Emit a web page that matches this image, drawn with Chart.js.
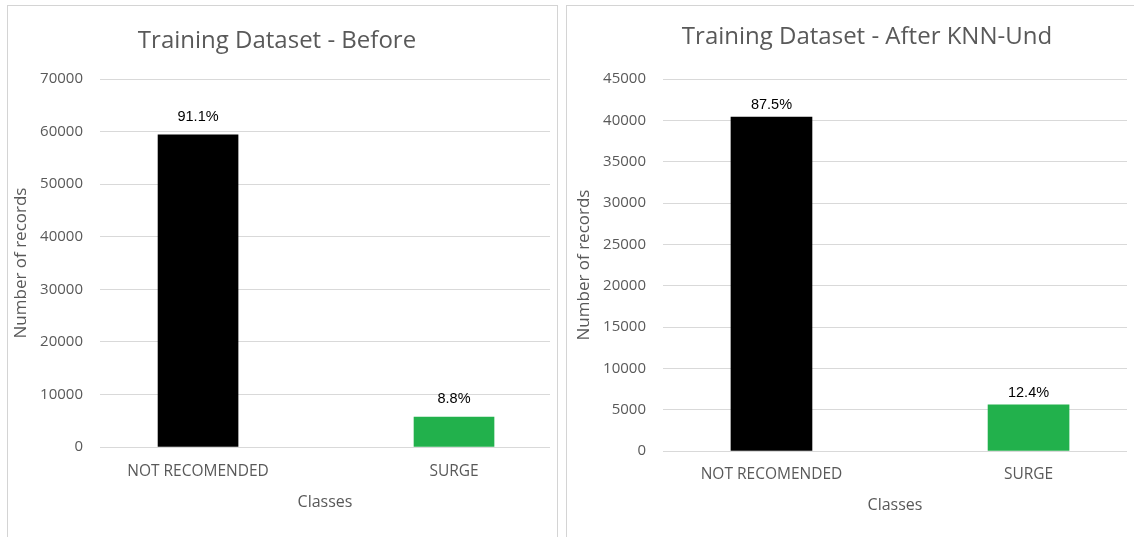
<!DOCTYPE html>
<html>
<head>
<meta charset="utf-8">
<script src="https://cdn.jsdelivr.net/npm/chart.js@4.4.1/dist/chart.umd.min.js"></script>
<style>
  html, body { margin: 0; padding: 0; background: #ffffff; width: 1134px; height: 537px; overflow: hidden; }
  .panel { position: absolute; box-sizing: border-box; border: 1px solid #d4d4d4; border-bottom: none; height: 600px; }
  canvas { position: absolute; top: 0; }
</style>
</head>
<body>
<div class="panel" style="left:7px; top:5px; width:551px;"></div>
<div class="panel" style="left:566px; top:5px; width:600px;"></div>
<canvas id="before" width="558" height="537" style="left:0px;"></canvas>
<canvas id="after" width="576" height="537" style="left:558px;"></canvas>
<script>
// ---- data ----
const categories = ['NOT RECOMENDED', 'SURGE'];
const beforeValues = [59400, 5700];
const beforePercents = ['91.1%', '8.8%'];
const afterValues = [40400, 5600];
const afterPercents = ['87.5%', '12.4%'];
const barColors = ['#000000', '#22b14c'];
const beforeTicks = [0, 10000, 20000, 30000, 40000, 50000, 60000, 70000];
const afterTicks = [0, 5000, 10000, 15000, 20000, 25000, 30000, 35000, 40000, 45000];

const GREY = '#595959';

const panelTitle = {
  id: 'panelTitle',
  afterDraw(chart, args, opts) {
    const ctx = chart.ctx;
    ctx.save();
    ctx.font = '24px "Open Sans"';
    ctx.fillStyle = GREY;
    ctx.textAlign = 'center';
    ctx.textBaseline = 'alphabetic';
    ctx.fillText(opts.text, opts.x, opts.y);
    ctx.restore();
  }
};

const barLabels = {
  id: 'barLabels',
  afterDatasetsDraw(chart, args, opts) {
    const ctx = chart.ctx;
    const meta = chart.getDatasetMeta(0);
    ctx.save();
    ctx.font = '14.5px "Liberation Sans"';
    ctx.fillStyle = '#000000';
    ctx.textAlign = 'center';
    ctx.textBaseline = 'alphabetic';
    meta.data.forEach((bar, i) => {
      ctx.fillText(opts.labels[i], bar.x, bar.y - opts.gap);
    });
    ctx.restore();
  }
};

function makeChart(id, values, percents, ticks, cfg) {
  const yMax = ticks[ticks.length - 1];
  return new Chart(document.getElementById(id), {
    type: 'bar',
    data: {
      datasets: [{
        data: values.map((v, i) => ({ x: i, y: v })),
        backgroundColor: barColors,
        borderWidth: 0,
        barThickness: cfg.barThickness
      }]
    },
    options: {
      responsive: false,
      animation: false,
      devicePixelRatio: 1,
      layout: { padding: { top: 79, right: cfg.padRight, bottom: 0, left: 0 } },
      plugins: {
        legend: { display: false },
        tooltip: { enabled: false },
        panelTitle: { text: cfg.title, x: cfg.titleX, y: cfg.titleY },
        barLabels: { labels: percents, gap: cfg.labelGap }
      },
      scales: {
        x: {
          type: 'linear',
          min: cfg.xMin,
          max: cfg.xMax,
          offset: false,
          grid: { display: false, drawTicks: false },
          border: { display: false },
          afterBuildTicks: (scale) => { scale.ticks = categories.map((c, i) => ({ value: i })); },
          afterFit: (scale) => { scale.height = cfg.xHeight; },
          ticks: {
            padding: cfg.xTickPad,
            color: GREY,
            font: { family: '"Open Sans"', size: 15.5 },
            callback: (v) => categories[v]
          },
          title: {
            display: true,
            text: 'Classes',
            color: GREY,
            font: { family: '"Open Sans"', size: 16 },
            padding: { top: 0, bottom: cfg.xTitlePad }
          }
        },
        y: {
          min: 0,
          max: yMax,
          afterBuildTicks: (scale) => { scale.ticks = ticks.map(v => ({ value: v })); },
          afterFit: (scale) => { scale.width = cfg.yWidth; },
          grid: { color: '#d9d9d9', lineWidth: 1, drawTicks: false },
          border: { display: false },
          ticks: {
            padding: 17,
            color: GREY,
            font: { family: '"Open Sans"', size: 15 },
            callback: (v) => String(v)
          },
          title: {
            display: true,
            text: 'Number of records',
            color: GREY,
            font: { family: '"Open Sans"', size: 17 },
            padding: { top: cfg.yTitlePad, bottom: 0 }
          }
        }
      }
    },
    plugins: [panelTitle, barLabels]
  });
}

makeChart('before', beforeValues, beforePercents, beforeTicks, {
  title: 'Training Dataset - Before', titleX: 277, titleY: 47.5,
  barThickness: 80, padRight: 8, xMin: -0.383, xMax: 1.375,
  xHeight: 90, xTickPad: 15, xTitlePad: 25, yWidth: 100, yTitlePad: 11, labelGap: 14
});

makeChart('after', afterValues, afterPercents, afterTicks, {
  title: 'Training Dataset - After KNN-Und', titleX: 309, titleY: 44,
  barThickness: 81, padRight: 7, xMin: -0.422, xMax: 1.383,
  xHeight: 86, xTickPad: 14, xTitlePad: 22, yWidth: 105, yTitlePad: 16, labelGap: 8
});
</script>
</body>
</html>
